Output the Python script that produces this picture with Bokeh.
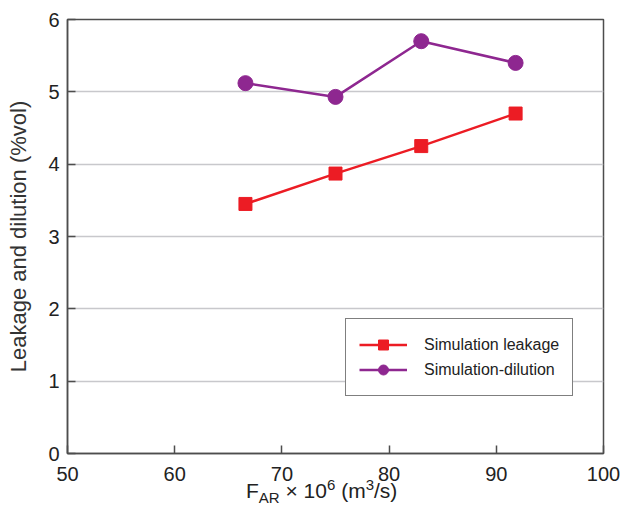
from bokeh.plotting import figure
from bokeh.models import Legend, FixedTicker, Range1d, Div
from bokeh.layouts import column
from bokeh.embed import file_html
from bokeh.resources import INLINE

# ---- data ----
far_leak = [66.6, 75.0, 83.0, 91.8]
leakage = [3.45, 3.87, 4.25, 4.70]
far_dil = [66.6, 75.0, 83.0, 91.8]
dilution = [5.12, 4.93, 5.70, 5.40]
x_ticks = [50, 60, 70, 80, 90, 100]
y_ticks = [0, 1, 2, 3, 4, 5, 6]
y_title = "Leakage and dilution (%vol)"
series_names = ["Simulation leakage", "Simulation-dilution"]

RED = "#ec1c24"
PURPLE = "#8e2790"
FONT = "Liberation Sans"
TXT = "#222222"

p = figure(frame_width=536, frame_height=434, output_backend="svg", toolbar_location=None,
           x_range=Range1d(50, 100), y_range=Range1d(0, 6),
           min_border_left=67, min_border_right=21, min_border_top=19, min_border_bottom=38)

p.outline_line_color = "#4d4d4d"
p.outline_line_width = 1.5
p.background_fill_color = "white"
p.border_fill_color = "white"

p.xgrid.grid_line_color = None
p.ygrid.grid_line_color = "#c8c8cc"
p.ygrid.grid_line_width = 1.5

for ax in (p.xaxis[0], p.yaxis[0]):
    ax.axis_line_color = "#4d4d4d"
    ax.axis_line_width = 1.5
    ax.major_tick_line_color = "#4d4d4d"
    ax.major_tick_line_width = 1.5
    ax.major_tick_in = 8
    ax.major_tick_out = 0
    ax.minor_tick_line_color = None
    ax.major_label_text_font = FONT
    ax.major_label_text_font_size = "20px"
    ax.major_label_text_color = TXT

p.xaxis.ticker = FixedTicker(ticks=x_ticks)
p.yaxis.ticker = FixedTicker(ticks=y_ticks)
p.xaxis.major_label_standoff = 13
p.yaxis.major_label_standoff = 8

p.yaxis.axis_label = y_title
p.yaxis.axis_label_text_font = FONT
p.yaxis.axis_label_text_font_size = "22px"
p.yaxis.axis_label_text_font_style = "normal"
p.yaxis.axis_label_text_color = "#333333"
p.yaxis.axis_label_standoff = 14

# series
l1 = p.line(far_leak, leakage, line_color=RED, line_width=2.5)
m1 = p.scatter(far_leak, leakage, marker="square", size=13, fill_color=RED, line_color=RED)
l2 = p.line(far_dil, dilution, line_color=PURPLE, line_width=2.5)
m2 = p.scatter(far_dil, dilution, marker="circle", size=15, fill_color=PURPLE, line_color=PURPLE)

legend = Legend(items=[(series_names[0], [l1, m1]), (series_names[1], [l2, m2])],
                location=(278, 57), border_line_color="black", border_line_width=1.2,
                label_text_font=FONT, label_text_font_size="16px", label_text_color=TXT,
                glyph_width=48, glyph_height=25, label_height=25, spacing=0,
                padding=13, label_standoff=17, margin=0, background_fill_alpha=1)
p.add_layout(legend, "center")

# x-axis title with subscript / superscripts as real HTML text
SUB = "font-size:15px;position:relative;top:5px;"
SUP = "font-size:15px;position:relative;top:-8px;"
x_title_html = (
    f'<div style="position:relative;left:246px;top:-10px;white-space:nowrap;'
    f'font-family:\'{FONT}\';font-size:21px;line-height:20px;color:{TXT};">'
    f'F<span style="{SUB}">AR</span> × 10<span style="{SUP}">6</span>'
    f' (m<span style="{SUP}">3</span>/s)</div>'
)
div = Div(text=x_title_html, width=624, height=14, margin=0)

layout = column(p, div, spacing=0)
open("out.html", "w").write(file_html(layout, INLINE))
